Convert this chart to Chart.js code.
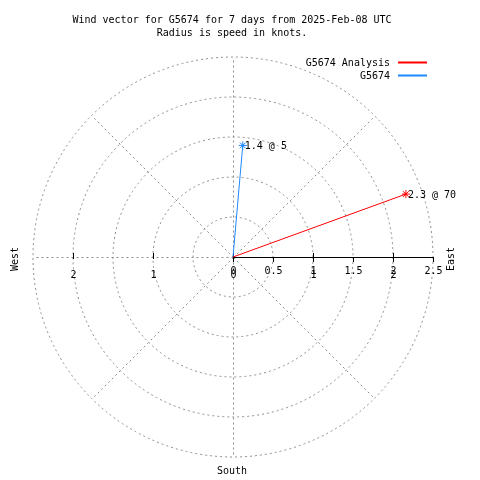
<!DOCTYPE html>
<html>
<head>
<meta charset="utf-8">
<script src="https://cdn.jsdelivr.net/npm/chart.js@4.4.1/dist/chart.umd.min.js"></script>
<style>
  html, body { margin: 0; padding: 0; background: #fff; }
  #wrap { width: 480px; height: 480px; }
</style>
</head>
<body>
<div id="wrap"><canvas id="windChart" width="480" height="480"></canvas></div>
<script>
// data
const seriesNames = ['G5674 Analysis', 'G5674'];
const seriesColors = ['#ff0000', '#1e88ff'];
const speeds = [2.3, 1.4];      // knots
const directions = [70, 5];     // degrees, clockwise from north
const ringValues = [0.5, 1, 1.5, 2, 2.5];
const rTickLabels = ['0', '0.5', '1', '1.5', '2', '2.5'];
const xTickValues = [-2, -1, 0, 1, 2];
const xTickLabels = ['2', '1', '0', '1', '2'];
const spokeAngles = [0, 45, 90, 135, 180, 225, 270, 315];
const titleLines = ['Wind vector for G5674 for 7 days from 2025-Feb-08 UTC', 'Radius is speed in knots.'];

const FONT = '10px "DejaVu Sans Mono", monospace';
const rad = d => d * Math.PI / 180;

const datasets = seriesNames.map((name, i) => ({
    label: name,
    data: [
        { x: 0, y: 0 },
        { x: speeds[i] * Math.sin(rad(directions[i])), y: speeds[i] * Math.cos(rad(directions[i])) }
    ],
    showLine: true,
    borderColor: seriesColors[i],
    backgroundColor: seriesColors[i],
    borderWidth: 1,
    pointStyle: 'star',
    pointRadius: [0, 4],
    pointBorderWidth: 1
}));

const polarGrid = {
    id: 'polarGrid',
    beforeDatasetsDraw(chart) {
        const { ctx, scales: { x, y } } = chart;
        const cx = x.getPixelForValue(0), cy = y.getPixelForValue(0);
        const outer = ringValues[ringValues.length - 1];
        ctx.save();
        ctx.strokeStyle = '#8c8c8c';
        ctx.lineWidth = 1;
        ctx.setLineDash([2, 3]);
        ringValues.forEach(r => {
            const pr = x.getPixelForValue(r) - cx;
            ctx.beginPath();
            ctx.arc(cx, cy, pr, 0, Math.PI * 2);
            ctx.stroke();
        });
        spokeAngles.forEach(a => {
            ctx.beginPath();
            ctx.moveTo(cx + 0.5, cy + 0.5);
            ctx.lineTo(x.getPixelForValue(outer * Math.sin(rad(a))) + 0.5, y.getPixelForValue(outer * Math.cos(rad(a))) + 0.5);
            ctx.stroke();
        });
        ctx.setLineDash([]);

        // solid radius axis to the east
        ctx.strokeStyle = '#000';
        ctx.beginPath();
        ctx.moveTo(cx, cy + 0.5);
        ctx.lineTo(x.getPixelForValue(outer), cy + 0.5);
        ctx.stroke();

        ctx.fillStyle = '#000';
        ctx.font = FONT;
        ctx.textAlign = 'center';
        ctx.textBaseline = 'middle';
        rTickLabels.forEach((t, i) => {
            const px = Math.round(x.getPixelForValue(i * 0.5)) + 0.5;
            ctx.beginPath();
            ctx.moveTo(px, cy);
            ctx.lineTo(px, cy + 5);
            ctx.stroke();
            ctx.fillText(t, px, cy + 14);
        });
        xTickValues.forEach((v, i) => {
            const px = Math.round(x.getPixelForValue(v)) + 0.5;
            ctx.beginPath();
            ctx.moveTo(px, cy - 4);
            ctx.lineTo(px, cy + 2);
            ctx.stroke();
            ctx.fillText(xTickLabels[i], px, cy + 18);
        });
        ctx.restore();
    },
    afterDraw(chart) {
        const { ctx, scales: { x, y } } = chart;
        ctx.save();
        ctx.fillStyle = '#000';
        ctx.font = FONT;
        ctx.textBaseline = 'middle';

        // title
        ctx.textAlign = 'center';
        titleLines.forEach((t, i) => ctx.fillText(t, 232, 20 + i * 13));

        // point labels
        ctx.textAlign = 'left';
        speeds.forEach((s, i) => {
            const px = x.getPixelForValue(s * Math.sin(rad(directions[i])));
            const py = y.getPixelForValue(s * Math.cos(rad(directions[i])));
            ctx.fillText(s.toFixed(1) + ' @ ' + directions[i], px + 2, py + 1);
        });

        // legend
        ctx.textAlign = 'right';
        seriesNames.forEach((n, i) => {
            const ly = 63 + i * 13;
            ctx.fillText(n, 390, ly);
            ctx.strokeStyle = seriesColors[i];
            ctx.lineWidth = 2;
            ctx.beginPath();
            ctx.moveTo(398, ly - 0.5);
            ctx.lineTo(427, ly - 0.5);
            ctx.stroke();
        });

        // compass words
        ctx.textAlign = 'center';
        ctx.fillText('South', 232, 471);
        [['East', 451], ['West', 15]].forEach(([w, px]) => {
            ctx.save();
            ctx.translate(px, 259);
            ctx.rotate(-Math.PI / 2);
            ctx.fillText(w, 0, 0);
            ctx.restore();
        });
        ctx.restore();
    }
};

new Chart(document.getElementById('windChart').getContext('2d'), {
    type: 'scatter',
    data: { datasets },
    options: {
        responsive: false,
        animation: false,
        layout: { padding: { left: 33, right: 47, top: 57, bottom: 23 } },
        scales: {
            x: { type: 'linear', min: -2.5, max: 2.5, display: false },
            y: { type: 'linear', min: -2.5, max: 2.5, display: false }
        },
        plugins: {
            legend: { display: false },
            title: { display: false },
            tooltip: { enabled: false }
        }
    },
    plugins: [polarGrid]
});
</script>
</body>
</html>
